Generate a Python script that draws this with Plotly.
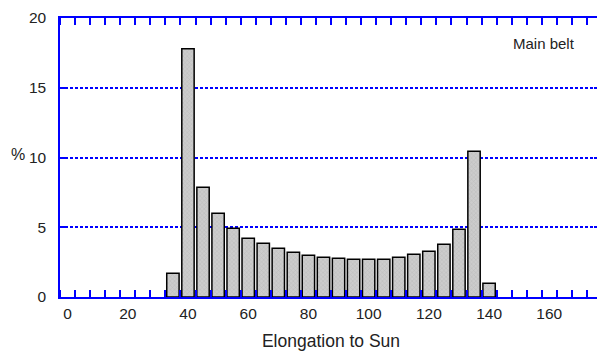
import plotly.graph_objects as go

elongation = [35, 40, 45, 50, 55, 60, 65, 70, 75, 80, 85, 90, 95, 100, 105, 110, 115, 120, 125, 130, 135, 140]
percent = [1.7, 17.8, 7.86, 6.0, 4.92, 4.21, 3.85, 3.49, 3.2, 2.99, 2.85, 2.77, 2.7, 2.7, 2.7, 2.85, 3.06, 3.28, 3.78, 4.85, 10.44, 0.98]
x_ticks = [0, 20, 40, 60, 80, 100, 120, 140, 160]
y_ticks = [0, 5, 10, 15, 20]

BLUE = "rgb(0,0,255)"
FONT = "Liberation Sans, Arial, sans-serif"

fig = go.Figure()
fig.add_trace(go.Bar(
    x=elongation, y=percent, width=4.1,
    marker=dict(
        color="#c4c4c4",
        line=dict(color="black", width=1.5),
        pattern=dict(shape="x", fgcolor="#a8a8a8", bgcolor="#cccccc", size=3, solidity=0.3),
    ),
    showlegend=False,
))

# the page body has an 8px margin, so the figure is sized/placed to compensate
fig.update_layout(
    width=597, height=343,
    margin=dict(l=52, r=3, t=10, b=54),
    plot_bgcolor="white", paper_bgcolor="white",
    font=dict(family=FONT, size=16, color="#222222"),
    xaxis=dict(
        range=[-2.5, 177.5], automargin=False,
        tickmode="array", tickvals=x_ticks, ticktext=[str(v) for v in x_ticks],
        ticks="", showgrid=False,
        showline=True, linecolor=BLUE, linewidth=1.5, mirror="allticks",
        minor=dict(tick0=2.5, dtick=5, ticks="inside", ticklen=7, tickcolor=BLUE, tickwidth=1.5, showgrid=False),
        title=dict(text="Elongation to Sun", font=dict(size=17.5), standoff=14),
        tickfont=dict(size=15.5), ticklabelstandoff=2,
        zeroline=False,
    ),
    yaxis=dict(
        range=[0, 20], automargin=False,
        tickmode="array", tickvals=y_ticks,
        ticks="inside", ticklen=8, tickcolor=BLUE, tickwidth=1.5,
        showline=True, linecolor=BLUE, linewidth=1.5, mirror="allticks",
        showgrid=True, gridcolor=BLUE, griddash="3px,2px", gridwidth=1.5,
        ticklabelstandoff=9, tickfont=dict(size=15.5),
        zeroline=False,
    ),
)

fig.add_annotation(text="%", xref="paper", yref="y", x=-0.078, y=10.18,
                   xanchor="center", yanchor="middle", showarrow=False, font=dict(size=16))
fig.add_annotation(text="Main belt", xref="x", yref="y", x=158.2, y=18.14,
                   xanchor="center", yanchor="middle", showarrow=False, font=dict(size=15))

fig.write_html("out.html")
